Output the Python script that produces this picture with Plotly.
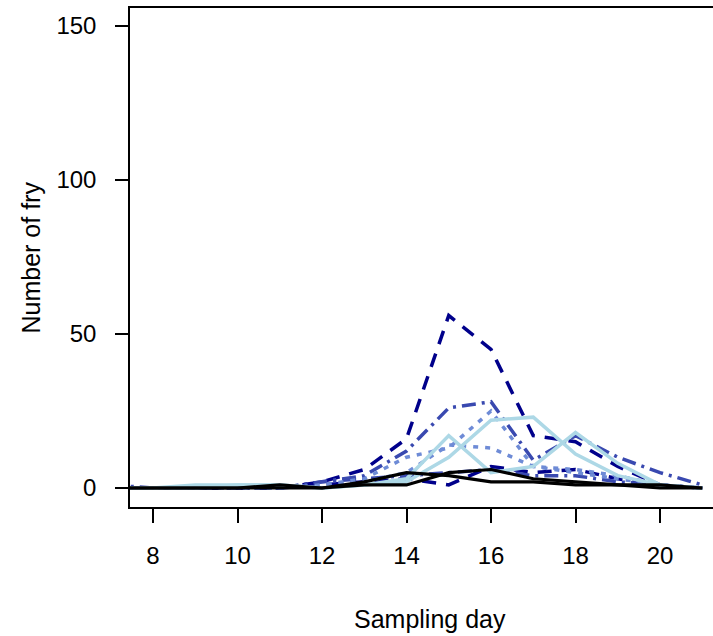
import plotly.graph_objects as go

days = [7, 8, 9, 10, 11, 12, 13, 14, 15, 16, 17, 18, 19, 20, 21]

dark_a   = [0, 0, 0, 0, 0, 2, 6, 16, 56, 45, 17, 15, 7, 1, 0]
dark_b   = [0, 0, 0, 0, 0, 1, 2, 3, 1, 7, 5, 6, 3, 1, 0]
medium_a = [0, 0, 0, 0, 0, 2, 4, 12, 26, 28, 9, 17, 10, 5, 1]
medium_b = [1, 0, 0, 0, 0, 2, 3, 4, 5, 6, 4, 4, 2, 1, 0]
dotted_a = [0, 0, 0, 0, 0, 1, 3, 10, 13, 25, 7, 5, 3, 1, 0]
dotted_b = [0, 0, 0, 0, 0, 1, 2, 5, 14, 13, 7, 6, 4, 1, 0]
light_a  = [0, 0, 1, 1, 1, 0, 1, 3, 17, 5, 7, 18, 8, 1, 0]
light_b  = [0, 0, 0, 1, 1, 0, 1, 2, 10, 22, 23, 11, 4, 1, 0]
black_a  = [0, 0, 0, 0, 1, 0, 2, 5, 4, 2, 2, 1, 1, 0, 0]
black_b  = [0, 0, 0, 0, 0, 0, 1, 1, 5, 6, 3, 2, 1, 1, 0]

x_ticks = [8, 10, 12, 14, 16, 18, 20]
y_ticks = [0, 50, 100, 150]

series = [
    (dark_b, "#00008B", "14px,10px", 3.5),
    (medium_b, "#3949B0", "14px,6px,3px,6px", 3.5),
    (dotted_b, "#6E8BD6", "5px,7px", 3.5),
    (dark_a, "#00008B", "14px,10px", 3.5),
    (medium_a, "#3949B0", "14px,6px,3px,6px", 3.5),
    (dotted_a, "#6E8BD6", "5px,7px", 3.5),
    (light_a, "#ADD8E6", "solid", 3.5),
    (light_b, "#ADD8E6", "solid", 3.5),
    (black_a, "#000000", "solid", 3.2),
    (black_b, "#000000", "solid", 3.2),
]

fig = go.Figure()
for vals, col, dash, w in series:
    fig.add_trace(go.Scatter(
        x=days, y=vals, mode="lines",
        line=dict(color=col, dash=dash, width=w),
        showlegend=False, hoverinfo="skip",
    ))

tick_font = dict(family="Liberation Sans, Arial, sans-serif", size=24, color="#000000")
title_font = dict(family="Liberation Sans, Arial, sans-serif", size=25, color="#000000")

fig.update_layout(
    width=713, height=636,
    margin=dict(l=130, r=0, t=8, b=129),
    paper_bgcolor="white", plot_bgcolor="white",
    font=tick_font,
    xaxis=dict(
        range=[7.4556, 21.254], tickvals=x_ticks, ticktext=[str(t) for t in x_ticks],
        showgrid=False, zeroline=False, showline=True, linecolor="black", linewidth=1.5,
        mirror=True, ticks="outside", ticklen=14, tickwidth=1.5, tickcolor="black",
        ticklabelstandoff=12, tickfont=tick_font,
    ),
    yaxis=dict(
        range=[-6.17, 155.84], tickvals=y_ticks, ticktext=[str(t) for t in y_ticks],
        showgrid=False, zeroline=False, showline=True, linecolor="black", linewidth=1.5,
        ticks="outside", ticklen=13, tickwidth=1.5, tickcolor="black",
        ticklabelstandoff=14, tickfont=tick_font,
    ),
    annotations=[
        dict(text="Sampling day", x=14.556, xref="x", y=-0.225, yref="paper",
             showarrow=False, font=title_font, xanchor="center", yanchor="middle"),
        dict(text="Number of fry", x=-0.1715, xref="paper", y=0.5, yref="paper",
             showarrow=False, font=title_font, textangle=-90, xanchor="center", yanchor="middle"),
    ],
)

fig.write_html("out.html")
